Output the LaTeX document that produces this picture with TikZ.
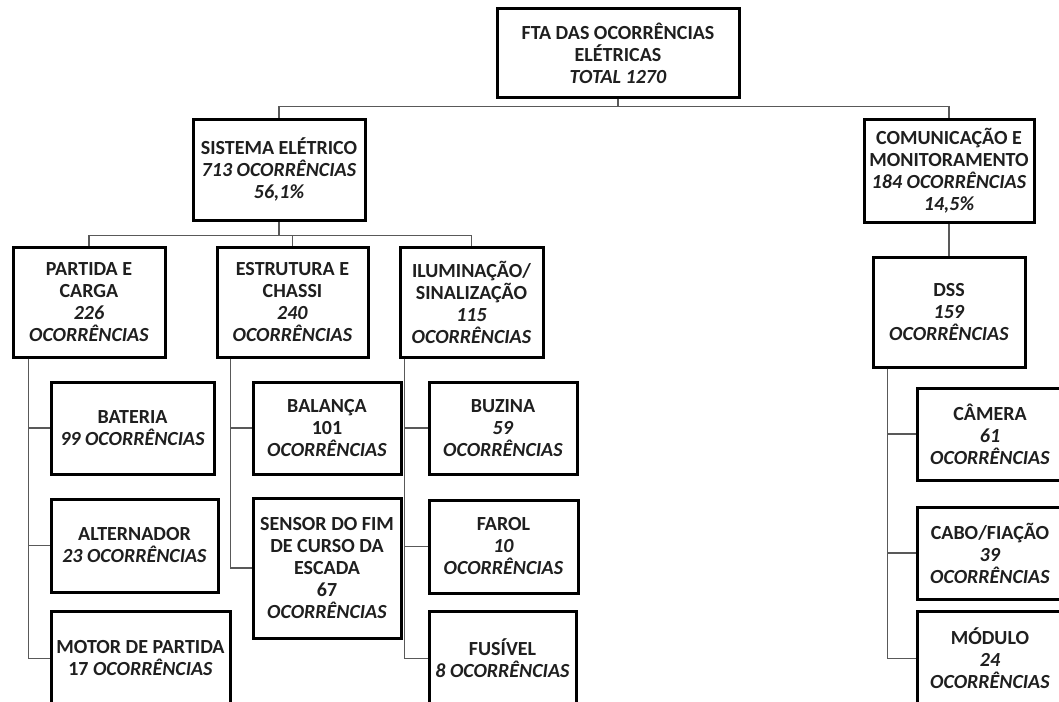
\documentclass[tikz,border=0pt]{standalone}
\usepackage{fontspec}
\setmainfont{Carlito}
\usetikzlibrary{calc}
\tikzset{
  box/.style={draw=black, line width=3pt, fill=white, inner sep=0pt, align=center,
    text=black!88, font=\fontsize{20}{22}\selectfont\bfseries},
  conn/.style={draw=black!65, line width=1.6pt}
}
\begin{document}
\begin{tikzpicture}[x=1pt,y=-1pt]
\useasboundingbox[fill=white] (0,0) rectangle (1059,701);
% level 0
\node[box, minimum width=242, minimum height=88] (top) at (618,53)
  {FTA DAS OCORRÊNCIAS\\ELÉTRICAS\\\textit{TOTAL 1270}};
% level 1
\node[box, minimum width=172, minimum height=101] (sis) at (279,169.5)
  {SISTEMA ELÉTRICO\\\textit{713 OCORRÊNCIAS}\\\textit{56,1\%}};
\node[box, minimum width=170, minimum height=103] (com) at (949,170.5)
  {COMUNICAÇÃO E\\MONITORAMENTO\\\textit{184 OCORRÊNCIAS}\\\textit{14,5\%}};
% level 2
\node[box, minimum width=152, minimum height=110] (part) at (89,302)
  {PARTIDA E\\CARGA\\\textit{226}\\\textit{OCORRÊNCIAS}};
\node[box, minimum width=151, minimum height=110] (est) at (292.5,302)
  {ESTRUTURA E\\CHASSI\\\textit{240}\\\textit{OCORRÊNCIAS}};
\node[box, minimum width=143, minimum height=110] (ilum) at (471.5,302)
  {ILUMINAÇÃO/\\SINALIZAÇÃO\\\textit{115}\\\textit{OCORRÊNCIAS}};
\node[box, minimum width=152, minimum height=110] (dss) at (949,312)
  {DSS\\\textit{159}\\\textit{OCORRÊNCIAS}};
% level 3
\node[box, minimum width=163, minimum height=92] (bat) at (132.5,428)
  {BATERIA\\\textit{99 OCORRÊNCIAS}};
\node[box, minimum width=167, minimum height=93] (alt) at (134.5,545.5)
  {ALTERNADOR\\\textit{23 OCORRÊNCIAS}};
\node[box, minimum width=179, minimum height=95] (mot) at (140.5,658.5)
  {MOTOR DE PARTIDA\\17 \textit{OCORRÊNCIAS}};
\node[box, minimum width=148, minimum height=92] (bal) at (327,428)
  {BALANÇA\\101\\\textit{OCORRÊNCIAS}};
\node[box, minimum width=148, minimum height=140] (sen) at (327,568)
  {SENSOR DO FIM\\DE CURSO DA\\ESCADA\\67\\\textit{OCORRÊNCIAS}};
\node[box, minimum width=148, minimum height=92] (buz) at (503,428)
  {BUZINA\\\textit{59}\\\textit{OCORRÊNCIAS}};
\node[box, minimum width=149, minimum height=93] (far) at (503.5,546.5)
  {FAROL\\\textit{10}\\\textit{OCORRÊNCIAS}};
\node[box, minimum width=147, minimum height=95] (fus) at (502.5,658.5)
  {FUSÍVEL\\\textit{8 OCORRÊNCIAS}};
\node[box, minimum width=146, minimum height=92] (cam) at (990,434)
  {CÂMERA\\\textit{61}\\\textit{OCORRÊNCIAS}};
\node[box, minimum width=146, minimum height=92] (cab) at (990,553)
  {CABO/FIAÇÃO\\\textit{39}\\\textit{OCORRÊNCIAS}};
\node[box, minimum width=146, minimum height=95] (mod) at (990,658.5)
  {MÓDULO\\\textit{24}\\\textit{OCORRÊNCIAS}};
% connectors level 0-1
\coordinate (b1) at ($(top.south)+(0,8)$);
\draw[conn] (top.south) -- (b1);
\draw[conn] (sis.north) |- (b1) -| (com.north);
% level 1-2
\coordinate (b2) at ($(sis.south)+(0,14)$);
\draw[conn] (sis.south) -- (b2);
\draw[conn] (part.north) |- (b2) -| (ilum.north);
\draw[conn] (est.north) -- (est.north |- b2);
\draw[conn] (com.south) -- (dss.north);
% level 2-3
\coordinate (p0) at ($(part.south west)+(17,0)$);
\coordinate (e0) at ($(est.south west)+(15,0)$);
\coordinate (i0) at ($(ilum.south west)+(6,0)$);
\coordinate (d0) at ($(dss.south west)+(16,0)$);
\draw[conn] (p0) |- (bat.west);
\draw[conn] (p0) |- (alt.west);
\draw[conn] (p0) |- (mot.west);
\draw[conn] (e0) |- (bal.west);
\draw[conn] (e0) |- (sen.west);
\draw[conn] (i0) |- (buz.west);
\draw[conn] (i0) |- (far.west);
\draw[conn] (i0) |- (fus.west);
\draw[conn] (d0) |- (cam.west);
\draw[conn] (d0) |- (cab.west);
\draw[conn] (d0) |- (mod.west);
\end{tikzpicture}
\end{document}
